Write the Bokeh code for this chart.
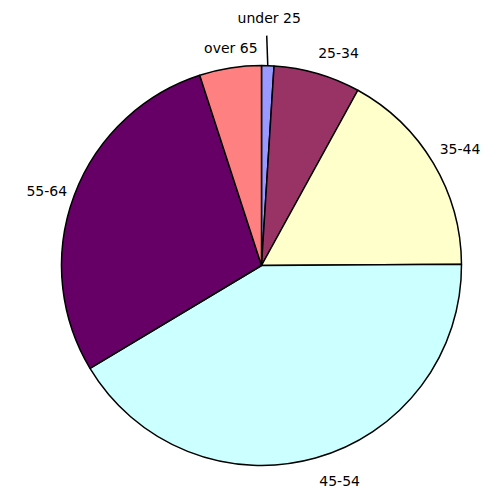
import math
from bokeh.plotting import figure
from bokeh.models import ColumnDataSource, Range1d
from bokeh.embed import file_html
from bokeh.resources import INLINE

categories = ["under 25", "25-34", "35-44", "45-54", "55-64", "over 65"]
values = [1.0, 7.0, 16.9, 41.5, 28.6, 5.0]
colors = ["#9999FF", "#993366", "#FFFFCC", "#CCFFFF", "#660066", "#FF8080"]

W, H = 500, 494
cx, cy, R = 261, 229, 200

total = sum(values)
starts, ends, mids = [], [], []
acc = 0.0
for v in values:
    a0 = acc / total * 2 * math.pi
    acc += v
    a1 = acc / total * 2 * math.pi
    starts.append(a0); ends.append(a1); mids.append((a0 + a1) / 2)

# bokeh angles: anticlockwise from +x; ours: clockwise from top
src = ColumnDataSource(dict(
    x=[cx] * len(values), y=[cy] * len(values),
    start=[math.pi / 2 - e for e in ends],
    end=[math.pi / 2 - s for s in starts],
    color=colors, cat=categories))

p = figure(width=W, height=H, output_backend="svg", toolbar_location=None,
           x_range=Range1d(0, W), y_range=Range1d(0, H), min_border=0)
p.axis.visible = False
p.grid.visible = False
p.outline_line_color = None

p.wedge(x="x", y="y", radius=R, start_angle="start", end_angle="end",
        fill_color="color", line_color="black", line_width=1.5, source=src)

# labels
lab_r = [245, 214, 212, 214, 214, 217]
align = ["center", "left", "left", "left", "right", "right"]
dx = [0, -3, -4, 0, 6, 30]
dy = [3, 7, 8, -9, -1, 3]
lx, ly = [], []
for i, m in enumerate(mids):
    lx.append(cx + lab_r[i] * math.sin(m) + dx[i])
    ly.append(cy + lab_r[i] * math.cos(m) + dy[i])
for i in range(len(categories)):
    p.text(x=[lx[i]], y=[ly[i]], text=[categories[i]], text_align=align[i],
           text_baseline="middle", text_font_size="14px", text_color="black",
           text_font={"value": "DejaVu Sans"})

# leader line for the smallest slice
m = mids[0]
p.line(x=[cx + R * math.sin(m), cx + 230 * math.sin(m) - 2],
       y=[cy + R * math.cos(m), cy + 230 * math.cos(m)],
       line_color="black", line_width=1.5)

open("out.html", "w").write(file_html(p, INLINE))
